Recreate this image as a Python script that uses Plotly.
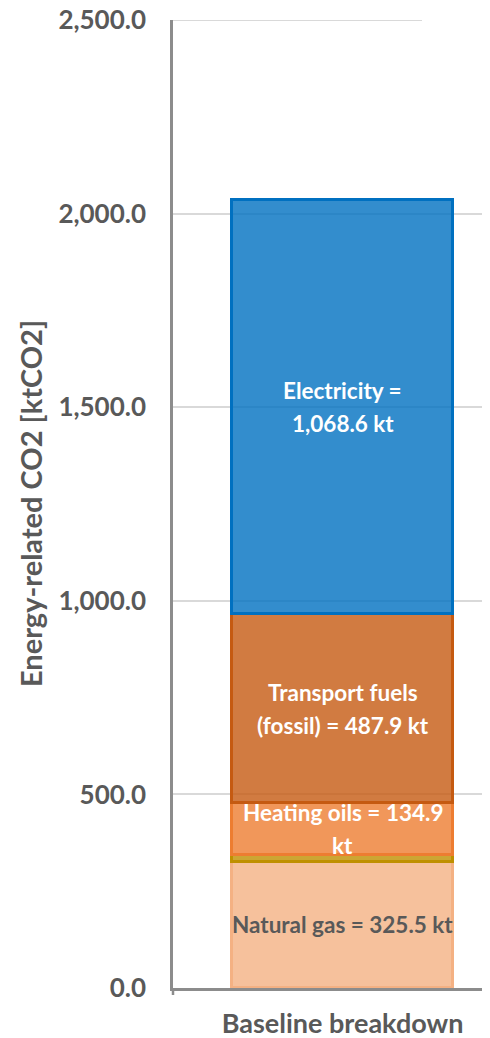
import plotly.graph_objects as go

categories = ["Baseline breakdown"]
segments = ["Natural gas", "Other fuels", "Heating oils", "Transport fuels (fossil)", "Electricity"]
values = [325.5, 17.0, 134.9, 487.9, 1068.6]
label_lines = [
    ["Natural gas = 325.5 kt"],
    [],
    ["Heating oils = 134.9", "kt"],
    ["Transport fuels", "(fossil) = 487.9 kt"],
    ["Electricity =", "1,068.6 kt"],
]
base_colors = ["#F4B183", "#BF9000", "#ED7D31", "#C55A11", "#0070C0"]
label_colors = ["#595959", "#FFFFFF", "#FFFFFF", "#FFFFFF", "#FFFFFF"]
y_ticks = [0, 500, 1000, 1500, 2000, 2500]
y_tick_text = ["0.0", "500.0", "1,000.0", "1,500.0", "2,000.0", "2,500.0"]


def rgba(hexc, a):
    h = hexc.lstrip("#")
    r, g, b = int(h[0:2], 16), int(h[2:4], 16), int(h[4:6], 16)
    return f"rgba({r},{g},{b},{a})"


FONT = "Lato"
# page body has an 8px margin, so the figure is drawn 8px smaller and offset
OFF = 8
W, H = 490 - OFF, 1038 - OFF
ML, MR, MT, MB = 173 - OFF, 0, 20 - OFF, 50

fig = go.Figure()
for name, v, c in zip(segments, values, base_colors):
    fig.add_trace(go.Bar(
        x=categories, y=[v], name=name,
        marker=dict(color=rgba(c, 0.8), line=dict(color=c, width=3)),
        hoverinfo="name+y",
    ))

annotations = []
cum = 0.0
for v, lines, col in zip(values, label_lines, label_colors):
    mid = cum + v / 2
    cum += v
    n = len(lines)
    for i, t in enumerate(lines):
        off = (i - (n - 1) / 2) * 33
        annotations.append(dict(
            x=categories[0], y=mid, text=f"<b>{t}</b>", showarrow=False,
            xref="x", yref="y", yshift=-off,
            font=dict(family=FONT, size=22.5, color=col),
        ))

plot_w = W - ML - MR
# y-axis title
annotations.append(dict(
    xref="paper", yref="paper", x=(30 - OFF - ML) / plot_w, y=0.5,
    text="<b>Energy-related CO2 [ktCO2]</b>", textangle=-90, showarrow=False,
    xanchor="center", yanchor="middle",
    font=dict(family=FONT, size=29, color="#595959"),
))

shapes = [
    # top gridline (shorter, as in the reference)
    dict(type="line", xref="paper", yref="y", x0=0, x1=(422 - OFF - ML) / plot_w,
         y0=y_ticks[-1], y1=y_ticks[-1], line=dict(color="#D9D9D9", width=1.8), layer="below"),
    # small tick below the axis corner
    dict(type="line", xref="paper", yref="paper", x0=0, x1=0, ysizemode="pixel",
         yanchor=0, y0=0, y1=-7, line=dict(color="#8C8C8C", width=2.5)),
]

fig.update_layout(
    width=W, height=H,
    margin=dict(l=ML, r=MR, t=MT, b=MB, autoexpand=False),
    barmode="stack", bargap=0,
    showlegend=False,
    plot_bgcolor="white", paper_bgcolor="white",
    annotations=annotations, shapes=shapes,
    xaxis=dict(
        range=[-0.767, 0.667], showgrid=False, automargin=False,
        showline=True, linecolor="#8C8C8C", linewidth=2.5,
        ticks="", ticklabelstandoff=10, ticklabeloverflow="allow",
        tickfont=dict(family=FONT, size=27, color="#595959"),
        tickprefix="<b>", ticksuffix="</b>",
    ),
    yaxis=dict(
        range=[0, 2500], tickvals=y_ticks, ticktext=[f"<b>{t}</b>" for t in y_tick_text],
        showgrid=True, gridcolor="#D9D9D9", gridwidth=1.8, automargin=False,
        showline=True, linecolor="#8C8C8C", linewidth=2.5,
        zeroline=False, ticks="", ticklabelstandoff=19, ticklabeloverflow="allow",
        tickfont=dict(family=FONT, size=26, color="#595959"),
    ),
)

fig.write_html("out.html")
